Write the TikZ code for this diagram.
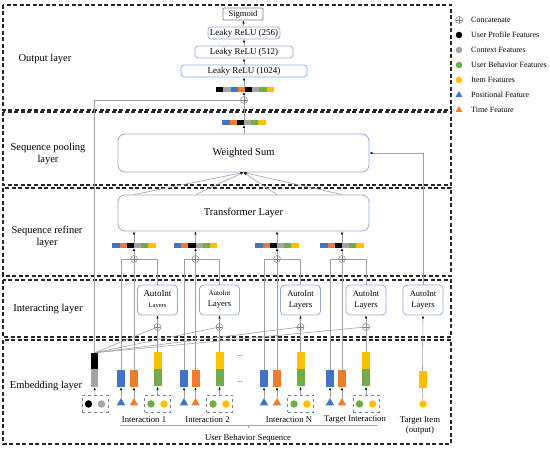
\documentclass[tikz,border=0pt]{standalone}
\usepackage{fontspec}
\setmainfont{Liberation Serif}
\usetikzlibrary{shapes.geometric,arrows.meta,calc}
\definecolor{cblue}{HTML}{4472C4}
\definecolor{corange}{HTML}{ED7D31}
\definecolor{cgrey}{HTML}{A5A5A5}
\definecolor{cgreen}{HTML}{70AD47}
\definecolor{cyellow}{HTML}{FFC000}
\definecolor{cbox}{HTML}{8FAADC}
\definecolor{cline}{HTML}{A0A0A0}
\newcommand{\segbar}[4]{%
  \node[inner sep=0pt, outer sep=0pt, minimum height=5pt, minimum width={#3*7.2pt}] (#1) at (#2) {};
  \foreach \c [count=\i] in {#4}{%
    \fill[\c] ([xshift={(\i-1)*7.2pt}]#1.south west) rectangle ([xshift={\i*7.2pt}]#1.north west);}%
}
\begin{document}
\begin{tikzpicture}[x=1pt,y=-1pt,
  layer/.style={draw=black!85, line width=1.1pt, dash pattern=on 4pt off 2.5pt},
  lbl/.style={font=\fontsize{10.5}{12.5}\selectfont, align=center},
  conn/.style={draw=cline, line width=0.6pt},
  arr/.style={conn, -{Latex[length=3pt,width=2.4pt,color=black]}},
  blk/.style={rounded corners=3pt, draw=cbox, line width=0.8pt, fill=white, inner sep=1pt},
  bigblk/.style={rounded corners=7pt, draw=cbox, line width=0.8pt, fill=white,
    minimum width=251pt, font=\fontsize{10.5}{12}\selectfont},
  autob/.style={rounded corners=4pt, draw=cbox, line width=0.8pt, fill=white,
    minimum width=40pt, minimum height=30pt, inner sep=0pt, align=center},
  concat/.style={circle, draw=gray, line width=0.5pt, minimum size=7pt, inner sep=0pt,
    path picture={\draw[gray, line width=0.5pt]
      (path picture bounding box.north) -- (path picture bounding box.south)
      (path picture bounding box.west) -- (path picture bounding box.east);}},
  bar/.style={inner sep=0pt, minimum width=8pt, minimum height=17pt},
  dot/.style={circle, inner sep=0pt, minimum size=7.5pt},
  tri/.style={regular polygon, regular polygon sides=3, inner sep=0pt, minimum size=10pt},
  dbox/.style={draw=gray, dashed, line width=0.5pt, minimum width=26pt, minimum height=17pt, inner sep=0pt},
  small/.style={font=\fontsize{8.7}{10}\selectfont, align=center},
  leg/.style={font=\fontsize{8}{9}\selectfont, anchor=west, inner sep=0pt}
]
\useasboundingbox (0,0) rectangle (550,449);

% layers
\draw[layer] (3,5) rectangle (451,110);
\draw[layer] (3,112) rectangle (451,185);
\draw[layer] (3,188) rectangle (451,276);
\draw[layer] (3,280) rectangle (451,337);
\draw[layer] (3,340) rectangle (451,444);
\node[lbl] (Lout) at (45,59) {Output layer};
\node[lbl] (Lpool) at (48,154) {Sequence pooling\\layer};
\node[lbl] (Lref) at (47,237) {Sequence refiner\\layer};
\node[lbl] (Lint) at (48,309) {Interacting layer};
\node[lbl] (Lemb) at (46,386) {Embedding layer};

% legend
\node[concat] (g1) at (459,20) {};
\node[leg] (t1) at (471,20) {Concatenate};
\node[dot, fill=black, minimum size=6.5pt] (g2) at (459,35) {};
\node[leg] (t2) at (471,35) {User Profile Features};
\node[dot, fill=cgrey, minimum size=6.5pt] (g3) at (459,50) {};
\node[leg] (t3) at (471,50) {Context Features};
\node[dot, fill=cgreen, minimum size=6.5pt] (g4) at (459,65) {};
\node[leg] (t4) at (471,65) {User Behavior Features};
\node[dot, fill=cyellow, minimum size=6.5pt] (g5) at (459,80) {};
\node[leg] (t5) at (471,80) {Item Features};
\node[tri, fill=cblue, minimum size=8pt] (g6) at (459,95) {};
\node[leg] (t6) at (471,95) {Positional Feature};
\node[tri, fill=corange, minimum size=8pt] (g7) at (459,110) {};
\node[leg] (t7) at (471,110) {Time Feature};

% output layer
\node[blk, draw=gray, rounded corners=1pt, minimum width=40pt, minimum height=12pt, font=\fontsize{8.5}{10}\selectfont] (sig) at (243,14) {Sigmoid};
\node[blk, minimum width=72pt, minimum height=12pt, font=\fontsize{9}{10}\selectfont] (l256) at (244,33) {Leaky ReLU (256)};
\node[blk, minimum width=98pt, minimum height=12pt, font=\fontsize{9}{10}\selectfont] (l512) at (244,52) {Leaky ReLU (512)};
\node[blk, minimum width=126pt, minimum height=12pt, font=\fontsize{9}{10}\selectfont] (l1024) at (244,71) {Leaky ReLU (1024)};
\segbar{obar}{245,89.5}{8}{black,cgrey,cblue,corange,black,cgrey,cgreen,cyellow}
\node[concat] (oc) at (244,100) {};
\draw[arr] (l256) -- (sig);
\draw[arr] (l512) -- (l256);
\draw[arr] (l1024) -- (l512);
\draw[arr] (obar.north -| l1024) -- (l1024.south);
\draw[arr] (oc.north) -- (obar.south -| oc);

% pooling
\segbar{pbar}{244,122.5}{6}{cblue,corange,black,cgrey,cgreen,cyellow}
\node[bigblk, minimum height=38pt] (wsum) at (243.5,153) {Weighted Sum};
\draw[conn] (pbar.north -| oc) -- (oc.south);
\draw[arr] (wsum.north -| oc) -- (pbar.south -| oc);

% refiner
\node[bigblk, minimum height=36pt] (trans) at (243.5,213) {Transformer Layer};

% embedding: profile/context
\node[bar, fill=black, minimum width=7pt, minimum height=16pt] (bk) at (94.5,361) {};
\node[bar, fill=cgrey, minimum width=7pt, minimum height=18pt] (gr) at (94.5,378) {};
\node[dbox] (db0) at (95,403.5) {};
\node[dot, fill=black] (c0a) at (88.5,404) {};
\node[dot, fill=cgrey] (c0b) at (101.5,404) {};
\draw[arr] (db0.north) -- (gr.south);
\draw[conn] (bk.north) |- (oc.west);

% groups
\foreach \n/\xb/\xo/\xg/\sa/\sb in {1/121/134/157.5/9/6.5, 2/184/195.5/219.5/7/8.5, 3/264/277/300.5/8.5/8.5, 4/330/342/366/8.5/8.5}{
  \node[bar, fill=cblue] (b\n) at (\xb,378.5) {};
  \node[tri, fill=cblue] (tb\n) at (\xb,403) {};
  \node[bar, fill=corange] (o\n) at (\xo,378.5) {};
  \node[tri, fill=corange] (to\n) at (\xo,403) {};
  \node[bar, fill=cyellow] (y\n) at (\xg,361) {};
  \node[bar, fill=cgreen] (gn\n) at (\xg,378) {};
  \node[dbox] (db\n) at (\xg,403.5) {};
  \node[dot, fill=cgreen] (cg\n) at (\xg-6.5,404) {};
  \node[dot, fill=cyellow] (cy\n) at (\xg+6.5,404) {};
  \node[concat] (ca\n) at (\xg,327) {};
  \node[autob] (ai\n) at (\xg,300) {{\fontsize{\sa}{10}\selectfont AutoInt}\\[-1pt]{\fontsize{\sb}{10}\selectfont Layers}};
  \node[concat] (cc\n) at (\xo,259) {};
  \segbar{s\n}{\xo,245.5}{6}{cblue,corange,black,cgrey,cgreen,cyellow}
  \draw[arr] (tb\n.north) -- (b\n.south);
  \draw[arr] (to\n.north) -- (o\n.south);
  \draw[arr] (db\n.north) -- (gn\n.south);
  \draw[conn] (y\n.north) -- (ca\n.south);
  \draw[conn] (bk.north) -- (ca\n);
  \draw[arr] (ca\n.north) -- (ai\n.south);
  \draw[conn] (b\n.north) |- (cc\n.west);
  \draw[conn] (o\n.north) -- (cc\n.south);
  \draw[conn] (ai\n.north) |- (cc\n.east);
  \draw[arr] (cc\n.north) -- (s\n.south -| cc\n);
  \draw[arr] (s\n.north -| cc\n) -- (trans.south -| cc\n);
  \draw[arr] (trans.north -| cc\n) -- (wsum.south);
}

% ellipses
\node[font=\fontsize{7}{8}\selectfont] (el1) at (240,356) {...};
\node[font=\fontsize{7}{8}\selectfont] (el2) at (240,382) {...};

% target item
\node[bar, fill=cyellow] (ty) at (422.5,379.5) {};
\node[dot, fill=cyellow] (tyc) at (423,404) {};
\node[autob] (ai5) at (423,300) {{\fontsize{8.5}{10}\selectfont AutoInt}\\[-1pt]{\fontsize{8.5}{10}\selectfont Layers}};
\draw[conn] (tyc) -- (ty.south);
\draw[arr] (ty.north) -- (ai5.south);
\draw[arr] (ai5.north) |- (wsum.east);

% bottom labels
\node[small] (i1) at (144,420) {Interaction 1};
\node[small] (i2) at (207.5,420) {Interaction 2};
\node[small] (iN) at (289,420) {Interaction N};
\node[small] (iT) at (355,420) {Target Interaction};
\node[small] (tI) at (420,426) {Target Item\\(output)};
\coordinate (brL) at (120,425);
\coordinate (brR) at (378,425);
\coordinate (brM) at (248,425);
\coordinate (brT) at (248,428);
\draw[conn] (brL) -- (brR);
\draw[conn] (brM) -- (brT);
\node[small] (ubs) at (248,438) {User Behavior Sequence};
\end{tikzpicture}
\end{document}
